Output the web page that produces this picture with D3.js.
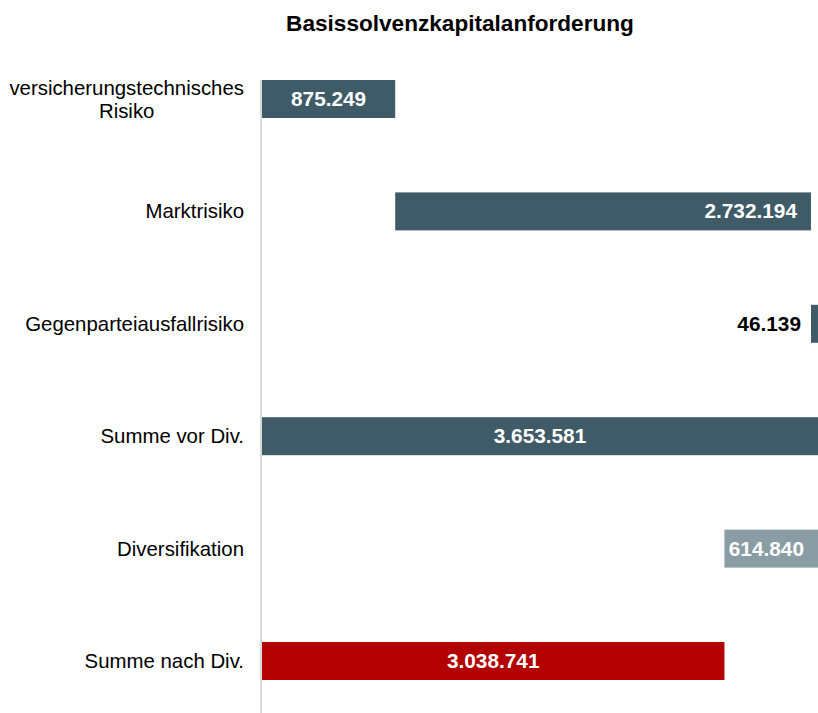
<!DOCTYPE html>
<html>
<head>
<meta charset="utf-8">
<script src="https://cdn.jsdelivr.net/npm/d3@7"></script>
<style>
  body { margin: 0; background: #fff; }
  text { font-family: "Liberation Sans", Arial, Helvetica, sans-serif; }
</style>
</head>
<body>
<svg id="chart" width="818" height="713"></svg>
<script>
// data
let categories = [
  "versicherungstechnisches Risiko",
  "Marktrisiko",
  "Gegenparteiausfallrisiko",
  "Summe vor Div.",
  "Diversifikation",
  "Summe nach Div."
]
let values = [875249, 2732194, 46139, 3653581, -614840, 3038741]
let kinds = ["delta", "delta", "delta", "total", "delta", "total"]
let labelPlacement = ["center", "end", "outside", "center", "end", "center"]

let margins = {left: 262, right: 0, top: 42.8, bottom: -4.2}
let width = 818, height = 713
let colors = {up: "#3e5b67", down: "#8a9da5", total: "#3e5b67", final: "#b30000"}

let de = d3.formatLocale({decimal: ",", thousands: ".", grouping: [3], currency: ["", " €"]})
let fmt = de.format(",")

function waterfall(values, kinds) {
  let running = 0
  return values.map((v, i) => {
    let start, end
    if (kinds[i] == "total") {
      start = 0
      end = v
    } else {
      start = running
      end = running + v
    }
    running = end
    return {i, name: categories[i], value: v, kind: kinds[i], x0: Math.min(start, end), x1: Math.max(start, end)}
  })
}

let rows = waterfall(values, kinds)

let x = d3.scaleLinear()
  .domain([0, d3.max(rows, d => d.x1)])
  .range([margins.left, width - margins.right])

let y = d3.scaleBand()
  .domain(categories)
  .range([margins.top, height - margins.bottom])
  .paddingInner(0.662)
  .paddingOuter(0.331)

function fill(d) {
  if (d.i == rows.length - 1) return colors.final
  if (d.kind == "total") return colors.total
  return d.value < 0 ? colors.down : colors.up
}

let svg = d3.select("#chart")

svg.append("text")
  .attr("x", 460)
  .attr("y", 31)
  .attr("text-anchor", "middle")
  .attr("font-size", 22.6)
  .attr("font-weight", "bold")
  .attr("fill", "#000")
  .text("Basissolvenzkapitalanforderung")

svg.append("g")
  .selectAll("rect")
  .data(rows).enter()
  .append("rect")
  .attr("x", d => x(d.x0))
  .attr("y", d => y(d.name))
  .attr("width", d => Math.max(1, x(d.x1) - x(d.x0)))
  .attr("height", y.bandwidth())
  .attr("fill", fill)

// axis line
svg.append("line")
  .attr("x1", margins.left - 1)
  .attr("x2", margins.left - 1)
  .attr("y1", y(categories[0]))
  .attr("y2", height)
  .attr("stroke", "#d9d9d9")
  .attr("stroke-width", 2)

// category labels (wrapped, centred block, right edge at 244)
let labels = svg.append("g")
  .selectAll("text")
  .data(rows).enter()
  .append("text")
  .attr("font-size", 20.4)
  .attr("fill", "#000")
  .attr("text-anchor", "middle")

labels.each(function(d) {
  let el = d3.select(this)
  let lines = d.name.length > 22 ? d.name.split(" ") : [d.name]
  let cy = y(d.name) + y.bandwidth() / 2
  let lh = 23
  lines.forEach((ln, k) => {
    el.append("tspan")
      .attr("y", cy - (lines.length - 1) * lh / 2 + k * lh + 7)
      .text(ln)
  })
  let w = d3.max(el.selectAll("tspan").nodes(), n => n.getComputedTextLength())
  el.selectAll("tspan").attr("x", 244 - w / 2)
})

// value labels
svg.append("g")
  .selectAll("text")
  .data(rows).enter()
  .append("text")
  .attr("font-size", 20.8)
  .attr("font-weight", "bold")
  .attr("y", d => y(d.name) + y.bandwidth() / 2 + 7)
  .attr("x", d => {
    let p = labelPlacement[d.i]
    if (p == "center") return (x(d.x0) + x(d.x1)) / 2
    if (p == "end") return x(d.x1) - 14
    return x(d.x0) - 10
  })
  .attr("text-anchor", d => labelPlacement[d.i] == "center" ? "middle" : "end")
  .attr("fill", d => labelPlacement[d.i] == "outside" ? "#000" : "#fff")
  .text(d => fmt(Math.abs(d.value)))
</script>
</body>
</html>
